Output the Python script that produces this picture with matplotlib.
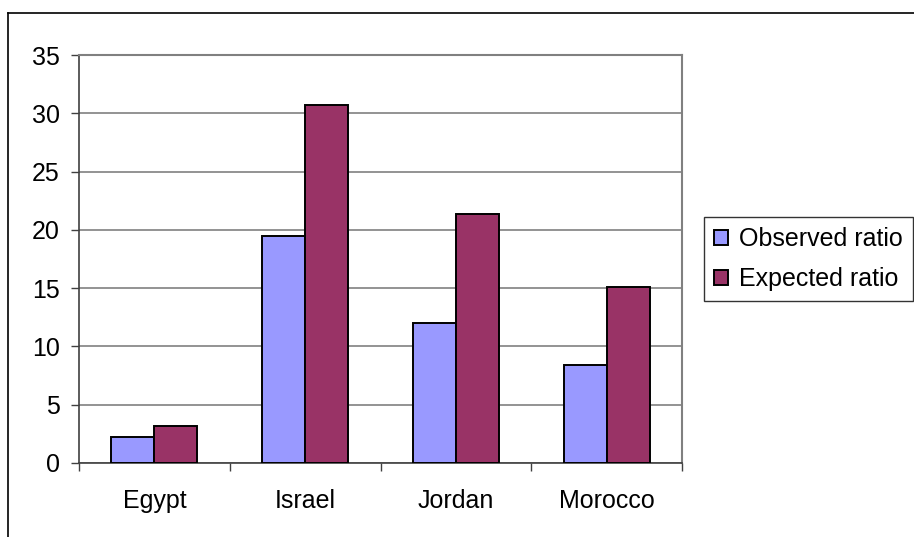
import matplotlib
matplotlib.use("Agg")
import matplotlib.pyplot as plt
from matplotlib.lines import Line2D
import numpy as np

plt.rcParams['font.family'] = ['Liberation Sans', 'DejaVu Sans']

categories = ["Egypt", "Israel", "Jordan", "Morocco"]
observed = [2.2, 19.5, 12.0, 8.4]
expected = [3.2, 30.7, 21.4, 15.1]
series_labels = ["Observed ratio", "Expected ratio"]
yticks = [0, 5, 10, 15, 20, 25, 30, 35]

FS = 18
W, H = 914, 537
fig = plt.figure(figsize=(W / 100, H / 100), dpi=100)
ax = fig.add_axes([79 / W, 1 - 463 / H, (682 - 79) / W, (463 - 55) / H])

x = np.arange(len(categories))
bw = 0.285
b1 = ax.bar(x - bw / 2, observed, bw, color="#9999FF", edgecolor="black", linewidth=1.4, label=series_labels[0], zorder=3)
b2 = ax.bar(x + bw / 2, expected, bw, color="#993366", edgecolor="black", linewidth=1.4, label=series_labels[1], zorder=3)

ax.set_xlim(-0.5, len(categories) - 0.5)
ax.set_ylim(0, 35)
ax.set_yticks(yticks)
ax.yaxis.grid(True, color="#808080", linewidth=1.2, zorder=0)
ax.set_axisbelow(True)

ax.set_xticks(x)
ax.set_xticklabels(categories)
ax.set_xticks(np.arange(len(categories) + 1) - 0.5, minor=True)
ax.tick_params(axis='x', which='major', length=0, pad=19, labelsize=FS)
ax.tick_params(axis='x', which='minor', length=6, width=1, color="#404040", direction='out')
ax.tick_params(axis='y', length=6, width=1, color="#404040", pad=8, labelsize=FS)

for s in ["top", "right"]:
    ax.spines[s].set_color("#808080")
    ax.spines[s].set_linewidth(1.5)
for s in ["left", "bottom"]:
    ax.spines[s].set_color("#404040")
    ax.spines[s].set_linewidth(1.2)

# outer chart border (partially cropped)
fig.add_artist(Line2D([8 / W, 8 / W], [0, 1 - 13 / H], transform=fig.transFigure, color="black", linewidth=1.2))
fig.add_artist(Line2D([8 / W, 1], [1 - 13 / H, 1 - 13 / H], transform=fig.transFigure, color="black", linewidth=1.2))

leg = fig.legend(handles=[b1, b2], loc="upper left", bbox_to_anchor=(704 / W, 1 - 217 / H),
                 fontsize=FS, frameon=True, fancybox=False, edgecolor="black",
                 handlelength=0.55, handleheight=0.55, handletextpad=0.45, borderpad=0.4,
                 labelspacing=0.65, borderaxespad=0)
leg.get_frame().set_linewidth(1.0)

fig.savefig("out.png", dpi=100)
